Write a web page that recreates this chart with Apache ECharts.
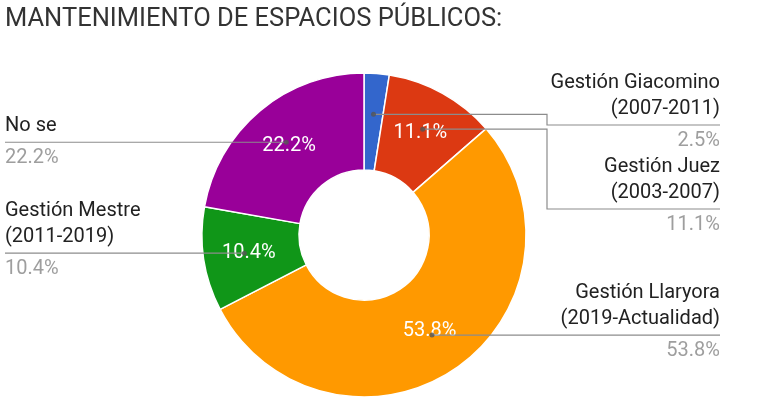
<!DOCTYPE html>
<html>
<head>
<meta charset="utf-8">
<script src="https://cdn.jsdelivr.net/npm/echarts@6/dist/echarts.min.js"></script>
<style>
    html, body { margin: 0; padding: 0; background: #fff; }
    #chart { width: 767px; height: 410px; }
</style>
</head>
<body>
<div id="chart"></div>
<script>
'use strict';

var titleText = 'MANTENIMIENTO DE ESPACIOS PÚBLICOS:';
var categories = [
    'Gestión Giacomino\n(2007-2011)',
    'Gestión Juez\n(2003-2007)',
    'Gestión Llaryora\n(2019-Actualidad)',
    'Gestión Mestre\n(2011-2019)',
    'No se'
];
var shares = [2.5, 11.1, 53.8, 10.4, 22.2];
var sliceColors = ['#3366cc', '#dc3912', '#ff9900', '#109618', '#990099'];

// layout
var CX = 364, CY = 235;
var R_IN = 65, R_OUT = 162, R_DOT = 121;
var RIGHT_X = 720, LEFT_X = 5, BEND_X = 547, LEFT_BEND_X = 180;
var TOP_LINE = 83, LINE_H = 26, RULE_GAP = 16, PCT_H = 38;

var rules = [];

function linesOf(i) {
    return categories[i].split('\n').length;
}

// google-style labels: name above the rule, percent below, rule pushed down on overlap
function layoutLabel(params) {
    var pts = params.labelLinePoints;
    if (!pts) {
        return {};
    }
    var i = params.dataIndex;
    var start = pts[0];
    var right = start[0] >= CX;
    var above = RULE_GAP + LINE_H * (linesOf(i) - 1);
    var rule = Math.max(start[1], TOP_LINE + above);
    for (var j = i - 1; j >= 0; j--) {
        if (rules[j] && rules[j].right === right) {
            if (right) {
                rule = Math.max(rule, rules[j].y + RULE_GAP + LINE_H + above);
            } else {
                var prevAbove = RULE_GAP + LINE_H * (linesOf(j) - 1);
                rule = Math.min(rule, rules[j].y - prevAbove - LINE_H - RULE_GAP);
            }
            break;
        }
    }
    rules[i] = {right: right, y: rule};

    var endX = right ? RIGHT_X : LEFT_X;
    var bendX = right ? BEND_X : LEFT_BEND_X;
    var linePts;
    if (Math.abs(rule - start[1]) < 1) {
        linePts = [start, [endX, start[1]]];
    } else {
        linePts = [start, [bendX, start[1]], [bendX, rule], [endX, rule]];
    }
    return {
        x: endX,
        y: rule + RULE_GAP + PCT_H / 2,
        align: right ? 'right' : 'left',
        verticalAlign: 'bottom',
        labelLinePoints: linePts
    };
}

// leader dots sit at the middle angle of each slice
var dotPoints = [];
var acc = 0;
for (var k = 0; k < shares.length; k++) {
    dotPoints.push([R_DOT, acc + shares[k] / 2]);
    acc += shares[k];
}

var chart = echarts.init(document.getElementById('chart'));

var option = {
    animation: false,
    backgroundColor: '#ffffff',
    title: {
        text: titleText,
        left: 5,
        top: 7,
        padding: 0,
        textStyle: {
            fontFamily: 'Roboto',
            fontSize: 25.5,
            lineHeight: 25,
            fontWeight: 'normal',
            color: '#333333'
        }
    },
    polar: {
        center: [CX, CY],
        radius: [0, R_OUT]
    },
    angleAxis: {
        type: 'value',
        min: 0,
        max: acc,
        startAngle: 90,
        clockwise: true,
        show: false
    },
    radiusAxis: {
        type: 'value',
        min: 0,
        max: R_OUT,
        show: false
    },
    series: [
        {
            type: 'pie',
            silent: true,
            z: 2,
            center: [CX, CY],
            radius: [R_IN, R_OUT],
            startAngle: 90,
            clockwise: true,
            avoidLabelOverlap: false,
            itemStyle: {
                borderColor: '#ffffff',
                borderWidth: 1.5
            },
            label: {
                show: true,
                position: 'inside',
                color: '#ffffff',
                fontFamily: 'Roboto',
                fontSize: 20,
                formatter: function (p) {
                    return p.value < 5 ? '' : p.value.toFixed(1) + '%';
                }
            },
            labelLine: {show: false},
            data: shares.map(function (v, i) {
                return {name: categories[i], value: v, itemStyle: {color: sliceColors[i]}};
            })
        },
        {
            type: 'pie',
            silent: true,
            z: 4,
            center: [CX, CY],
            radius: [0, R_DOT],
            startAngle: 90,
            clockwise: true,
            avoidLabelOverlap: false,
            itemStyle: {
                color: 'rgba(0,0,0,0)',
                borderWidth: 0
            },
            label: {
                show: true,
                position: 'outside',
                fontFamily: 'Roboto',
                formatter: function (p) {
                    var lines = categories[p.dataIndex].split('\n').map(function (s) {
                        return '{n|' + s + '}';
                    });
                    lines.push('{p|' + shares[p.dataIndex].toFixed(1) + '%}');
                    return lines.join('\n');
                },
                rich: {
                    n: {fontFamily: 'Roboto', fontSize: 20, lineHeight: LINE_H, color: '#222222'},
                    p: {fontFamily: 'Roboto', fontSize: 20, lineHeight: PCT_H, color: '#9e9e9e'}
                }
            },
            labelLine: {
                show: true,
                length: 0,
                length2: 0,
                lineStyle: {color: '#8c8c8c', width: 1.2}
            },
            labelLayout: layoutLabel,
            emphasis: {disabled: true},
            data: shares.map(function (v, i) {
                return {name: categories[i], value: v};
            })
        },
        {
            type: 'scatter',
            coordinateSystem: 'polar',
            silent: true,
            z: 5,
            symbol: 'circle',
            symbolSize: 5,
            itemStyle: {color: '#555555'},
            data: dotPoints
        }
    ]
};

chart.setOption(option);
</script>
</body>
</html>
